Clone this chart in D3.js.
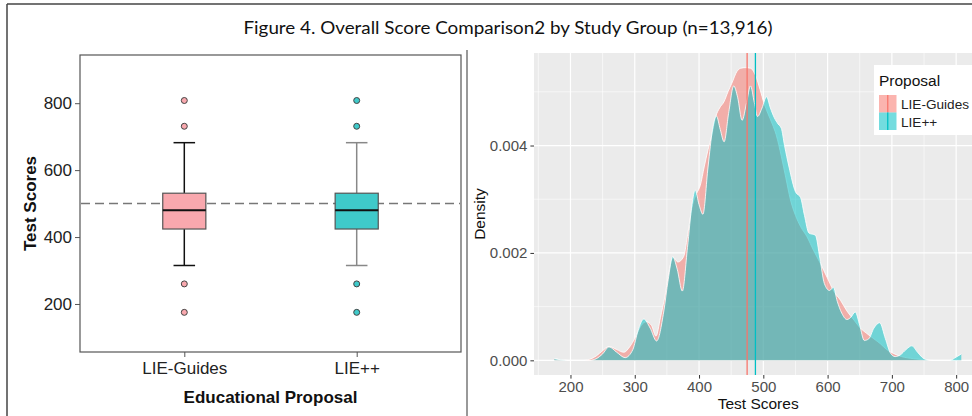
<!DOCTYPE html>
<html><head><meta charset="utf-8">
<script src="https://cdn.jsdelivr.net/npm/d3@7"></script>
<style>html,body{margin:0;padding:0;background:#fff;}svg{display:block;}</style>
</head><body>
<svg id="c" width="972" height="416"></svg>
<script>
// ---------- data ----------
const titleText = "Figure 4. Overall Score Comparison2 by Study Group (n=13,916)";
const categories = ["LIE-Guides", "LIE++"];
const boxFill = ["#F9A8AE", "#3FCACA"];
const whiskerColor = ["#111111", "#888888"];
const q1 = [424, 424];
const median = [480, 480];
const q3 = [531, 531];
const whiskerLow = [315, 315];
const whiskerHigh = [682, 682];
const outliers = [[808, 731, 260, 175], [808, 731, 260, 175]];
const referenceScore = 500;
const boxYTicks = [200, 400, 600, 800];

const densityXTicks = [200, 300, 400, 500, 600, 700, 800];
const densityYTicks = [0, 0.002, 0.004];
const seriesColors = ["#F8766D", "#00BFC4"];
const seriesMeans = [474.8, 487.7];

const guidesScore = [175,185,195,220,230,240,250,260,272,283,292,301,310,318,326,333,340,347,354,360,367,376,383,390,396,402,408,414,420,426,432,439,445,451,459,465,472,480,488,495,501,507,514,520,528,535,542,550,558,568,578,589,599,610,620,630,641,651,661,672,682,692,703,715,734,750,765,800,808];
const guidesDensity = [0.00003,0.00001,0,0,0.00002,0.00008,0.00018,0.00026,0.0002,0.00015,0.00025,0.00043,0.00065,0.00072,0.00065,0.00045,0.0008,0.0012,0.0017,0.00192,0.00183,0.00193,0.0024,0.0029,0.0031,0.00326,0.0036,0.00392,0.0042,0.00454,0.0047,0.00482,0.005,0.00516,0.00538,0.00544,0.00545,0.00544,0.0053,0.00504,0.00479,0.0046,0.0044,0.0042,0.0038,0.0034,0.003,0.0027,0.00249,0.0023,0.00205,0.0018,0.00155,0.00128,0.00112,0.00092,0.00075,0.0006,0.0005,0.0004,0.00031,0.0002,0.000125,0.00007,0.00003,0.00001,0,0,0.00001];

const plusScore = [175,185,195,230,240,250,260,272,285,297,305,314,324,334,345,352,359,366,374,382,389,394,400,406,414,421,427,433,439,446,454,460,467,474,480,486,491,498,505,511,517,523,528,533,540,550,558,564,571,581,588,595,603,609,615,622,630,636,643,650,657,664,672,681,690,698,705,713,722,731,740,750,760,790,800,808];
const plusDensity = [0.00003,0.00001,0,0,0.00003,0.00012,0.00025,0.00015,0.00005,0.0002,0.00055,0.00077,0.0006,0.00036,0.0009,0.0015,0.00193,0.0017,0.00129,0.0021,0.0029,0.00317,0.0029,0.00272,0.0036,0.0043,0.00455,0.0043,0.00407,0.0046,0.00511,0.0049,0.00447,0.0048,0.00511,0.0048,0.00454,0.0047,0.00491,0.0047,0.00452,0.0044,0.00432,0.004,0.0036,0.00314,0.00303,0.0027,0.00237,0.00233,0.0019,0.00143,0.0013,0.00136,0.0011,0.00088,0.00076,0.0008,0.0009,0.00065,0.00037,0.0004,0.0006,0.0007,0.0004,0.00013,0.00007,0.0001,0.0002,0.00027,0.00015,0.00003,0,0,0.00006,0.00012];

// ---------- drawing ----------
const svg = d3.select("#c");
const SANS = "'Liberation Sans', Arial, sans-serif";

svg.append("line").attr("x1",7).attr("x2",972).attr("y1",4).attr("y2",4).attr("stroke","#444").attr("stroke-width",1.5);
svg.append("line").attr("x1",7).attr("x2",7).attr("y1",4).attr("y2",416).attr("stroke","#444").attr("stroke-width",1.5);
svg.append("line").attr("x1",467).attr("x2",467).attr("y1",50).attr("y2",416).attr("stroke","#777").attr("stroke-width",1.5);

svg.append("text").attr("x",508).attr("y",34).attr("text-anchor","middle")
  .attr("font-family","Lato, 'Noto Sans', sans-serif").attr("font-size",18).attr("fill","#111")
  .attr("textLength",529).attr("lengthAdjust","spacingAndGlyphs").text(titleText);

// ===== left: boxplot =====
const L = {left:80, right:461, top:55, bottom:352};
const by = d3.scaleLinear().domain([56.5, 944]).range([L.bottom, L.top]);
const bx = d3.scalePoint().domain(categories).range([L.left, L.right]).padding(0.605);
const step = bx.step();
const boxW = step * 0.25, capW = step * 0.125;

const gL = svg.append("g");
gL.append("rect").attr("x",L.left).attr("y",L.top).attr("width",L.right-L.left).attr("height",L.bottom-L.top)
  .attr("fill","#fff").attr("stroke","#555").attr("stroke-width",1.2);

const yAxisL = gL.append("g").attr("transform",`translate(${L.left},0)`)
  .call(d3.axisLeft(by).tickValues(boxYTicks).tickSize(5).tickPadding(3).tickFormat(d3.format("d")));
yAxisL.select(".domain").remove();
yAxisL.selectAll("line").attr("stroke","#555");
yAxisL.selectAll("text").attr("font-family",SANS).attr("font-size",17).attr("fill","#222");

const xAxisL = gL.append("g").attr("transform",`translate(0,${L.bottom})`)
  .call(d3.axisBottom(bx).tickSize(5).tickPadding(5));
xAxisL.select(".domain").remove();
xAxisL.selectAll("line").attr("stroke","#555");
xAxisL.selectAll("text").attr("font-family",SANS).attr("font-size",17).attr("fill","#222");

gL.append("line").attr("x1",L.left+1).attr("x2",L.right-1).attr("y1",by(referenceScore)).attr("y2",by(referenceScore))
  .attr("stroke","#777").attr("stroke-width",1.5).attr("stroke-dasharray","9,5");

categories.forEach((c,i)=>{
  const cx = bx(c);
  const g = gL.append("g");
  g.append("line").attr("x1",cx).attr("x2",cx).attr("y1",by(q3[i])).attr("y2",by(whiskerHigh[i])).attr("stroke",whiskerColor[i]).attr("stroke-width",1.5);
  g.append("line").attr("x1",cx).attr("x2",cx).attr("y1",by(q1[i])).attr("y2",by(whiskerLow[i])).attr("stroke",whiskerColor[i]).attr("stroke-width",1.5);
  g.append("line").attr("x1",cx-capW/2).attr("x2",cx+capW/2).attr("y1",by(whiskerHigh[i])).attr("y2",by(whiskerHigh[i])).attr("stroke",whiskerColor[i]).attr("stroke-width",1.5);
  g.append("line").attr("x1",cx-capW/2).attr("x2",cx+capW/2).attr("y1",by(whiskerLow[i])).attr("y2",by(whiskerLow[i])).attr("stroke",whiskerColor[i]).attr("stroke-width",1.5);
  g.append("rect").attr("x",cx-boxW/2).attr("y",by(q3[i])).attr("width",boxW).attr("height",by(q1[i])-by(q3[i]))
    .attr("fill",boxFill[i]).attr("stroke","#555").attr("stroke-width",1.2);
  g.append("line").attr("x1",cx-boxW/2).attr("x2",cx+boxW/2).attr("y1",by(median[i])).attr("y2",by(median[i])).attr("stroke","#111").attr("stroke-width",2);
  g.selectAll("circle").data(outliers[i]).join("circle").attr("cx",cx).attr("cy",d=>by(d)).attr("r",3)
    .attr("fill",boxFill[i]).attr("stroke","#444").attr("stroke-width",1);
});

gL.append("text").attr("transform",`translate(36,${(L.top+L.bottom)/2}) rotate(-90)`).attr("text-anchor","middle")
  .attr("font-family",SANS).attr("font-weight","bold").attr("font-size",17).attr("fill","#111").text("Test Scores");
gL.append("text").attr("x",(L.left+L.right)/2).attr("y",403).attr("text-anchor","middle")
  .attr("font-family",SANS).attr("font-weight","bold").attr("font-size",17).attr("fill","#111").text("Educational Proposal");

// ===== right: density =====
const R = {left:534, right:983, top:53, bottom:375};
const dx = d3.scaleLinear().domain([143.25, 841.75]).range([R.left, R.right]);
const dy = d3.scaleLinear().domain([-0.000273, 0.005723]).range([R.bottom, R.top]);
const gR = svg.append("g");
svg.append("clipPath").attr("id","pclip").append("rect").attr("x",R.left).attr("y",R.top).attr("width",R.right-R.left).attr("height",R.bottom-R.top);

gR.append("rect").attr("x",R.left).attr("y",R.top).attr("width",R.right-R.left).attr("height",R.bottom-R.top).attr("fill","#EBEBEB");
const minorX = [150,250,350,450,550,650,750];
const minorY = [0.001,0.003,0.005];
gR.selectAll(".mnx").data(minorX).join("line").attr("x1",d=>dx(d)).attr("x2",d=>dx(d)).attr("y1",R.top).attr("y2",R.bottom).attr("stroke","#fff").attr("stroke-width",0.6);
gR.selectAll(".mny").data(minorY).join("line").attr("x1",R.left).attr("x2",R.right).attr("y1",d=>dy(d)).attr("y2",d=>dy(d)).attr("stroke","#fff").attr("stroke-width",0.6);
gR.selectAll(".mjx").data(densityXTicks).join("line").attr("x1",d=>dx(d)).attr("x2",d=>dx(d)).attr("y1",R.top).attr("y2",R.bottom).attr("stroke","#fff").attr("stroke-width",1.2);
gR.selectAll(".mjy").data(densityYTicks).join("line").attr("x1",R.left).attr("x2",R.right).attr("y1",d=>dy(d)).attr("y2",d=>dy(d)).attr("stroke","#fff").attr("stroke-width",1.2);

const series = [
  {x: guidesScore, y: guidesDensity},
  {x: plusScore, y: plusDensity}
];
const area = d3.area().x(d=>dx(d[0])).y0(dy(0)).y1(d=>dy(d[1])).curve(d3.curveMonotoneX);
const line = d3.line().x(d=>dx(d[0])).y(d=>dy(d[1])).curve(d3.curveMonotoneX);
const gD = gR.append("g").attr("clip-path","url(#pclip)");
series.forEach((s,i)=>{
  const pts = s.x.map((v,k)=>[v, s.y[k]]);
  gD.append("path").attr("d",area(pts)).attr("fill",seriesColors[i]).attr("fill-opacity",0.52);
  gD.append("path").attr("d",line(pts)).attr("fill","none").attr("stroke","#fff").attr("stroke-width",0.9).attr("stroke-opacity",0.9);
});
seriesMeans.forEach((m,i)=>{
  gD.append("line").attr("x1",dx(m)).attr("x2",dx(m)).attr("y1",R.top).attr("y2",R.bottom).attr("stroke",seriesColors[i]).attr("stroke-width",1.3);
});

const xAxisR = gR.append("g").attr("transform",`translate(0,${R.bottom})`)
  .call(d3.axisBottom(dx).tickValues(densityXTicks).tickSize(3.6).tickPadding(3));
xAxisR.select(".domain").remove();
xAxisR.selectAll("line").attr("stroke","#333");
xAxisR.selectAll("text").attr("font-family",SANS).attr("font-size",15).attr("fill","#4D4D4D");
const yAxisR = gR.append("g").attr("transform",`translate(${R.left},0)`)
  .call(d3.axisLeft(dy).tickValues(densityYTicks).tickSize(3.6).tickPadding(3).tickFormat(d3.format(".3f")));
yAxisR.select(".domain").remove();
yAxisR.selectAll("line").attr("stroke","#333");
yAxisR.selectAll("text").attr("font-family",SANS).attr("font-size",15).attr("fill","#4D4D4D");

gR.append("text").attr("x",dx(492)).attr("y",409).attr("text-anchor","middle").attr("font-family",SANS).attr("font-size",15.5).attr("fill","#111").text("Test Scores");
gR.append("text").attr("transform",`translate(485,${(R.top+R.bottom)/2}) rotate(-90)`).attr("text-anchor","middle").attr("font-family",SANS).attr("font-size",15.5).attr("fill","#111").text("Density");

const lg = gR.append("g");
lg.append("rect").attr("x",874).attr("y",65).attr("width",120).attr("height",70).attr("fill","#fff");
lg.append("text").attr("x",879).attr("y",86).attr("font-family",SANS).attr("font-size",15.5).attr("fill","#111").text("Proposal");
categories.forEach((c,i)=>{
  const ky = 95 + i*17.5;
  lg.append("rect").attr("x",879).attr("y",ky).attr("width",17.5).attr("height",17.5).attr("fill",seriesColors[i]).attr("fill-opacity",0.55);
  lg.append("line").attr("x1",887.75).attr("x2",887.75).attr("y1",ky).attr("y2",ky+17.5).attr("stroke",seriesColors[i]).attr("stroke-width",1.3);
  lg.append("text").attr("x",901).attr("y",ky+14).attr("font-family",SANS).attr("font-size",13.6).attr("fill","#222").text(c);
});
</script>
</body></html>
